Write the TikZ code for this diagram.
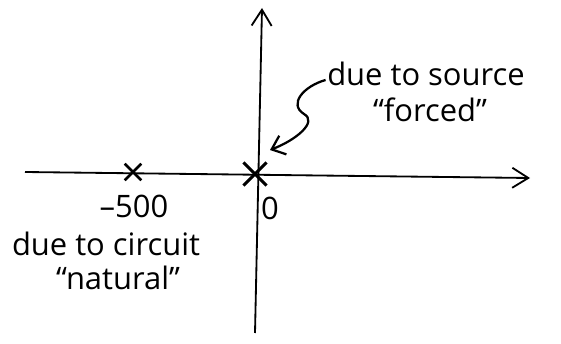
\documentclass[tikz,border=0pt]{standalone}
\usepackage{fontspec}
\setmainfont{Open Sans}
\usepackage{tikz}
\usetikzlibrary{arrows.meta,positioning,shapes.misc}

\begin{document}
\begin{tikzpicture}[
  axis/.style={line width=1.3pt, -{Straight Barb[length=4mm, width=5mm, line width=1.3pt]}},
  pole/.style={cross out, draw, line width=1.8pt, minimum size=3.5mm, inner sep=0pt},
  big/.style={cross out, draw, line width=2.2pt, minimum size=5mm, inner sep=0pt},
  lbl/.style={align=center, inner sep=1pt, font=\fontsize{22}{26}\selectfont},
  arr/.style={line width=1.6pt, -{Straight Barb[length=3mm, width=5mm, line width=1.6pt]}}
]
\useasboundingbox (0,0) rectangle (14.025,8.6);

% axes
\coordinate (west) at (0.625,4.3);
\coordinate (east) at (13.25,4.15);
\coordinate (south) at (6.375,0.275);
\coordinate (north) at (6.55,8.4);
\draw[axis] (west) -- (east);
\draw[axis] (south) -- (north);

% poles
\node[pole] (natural) at (3.325,4.3) {};
\node[big] (forced) at (6.375,4.25) {};

\node[lbl] (m500) at (3.35,3.45) {–500};
\node[lbl] (zero) at (6.75,3.4) {0};
\node[lbl] (circuit) at (2.65,2.5) {due to circuit};
\node[lbl] (nat) at (2.95,1.65) {“natural”};
\node[lbl] (source) at (10.65,6.75) {due to source};
\node[lbl] (forc) at (10.75,5.85) {“forced”};

\draw[arr] ([yshift=-1.5mm]source.west) .. controls (7.6,6.45) and (7.2,6.0) .. (7.6,5.75)
    .. controls (7.95,5.55) and (7.4,5.1) .. (6.75,4.85);
\end{tikzpicture}
\end{document}
